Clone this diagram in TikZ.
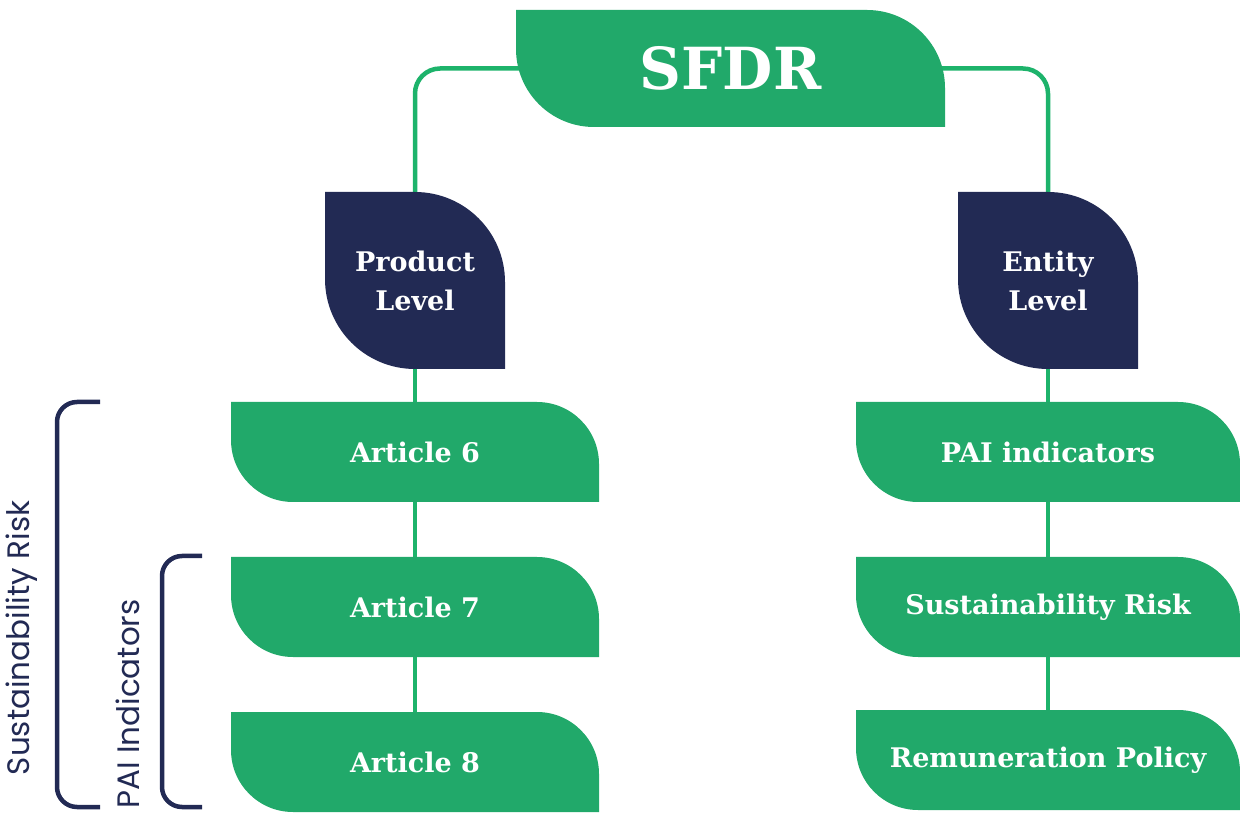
\documentclass[tikz,border=0pt]{standalone}
\usepackage{fontspec}
\setmainfont{DejaVu Serif}
\newfontfamily\labelfont{Poppins}
\usetikzlibrary{backgrounds}
\definecolor{boxgreen}{HTML}{21A96A}
\definecolor{linegreen}{HTML}{1DB36B}
\definecolor{navy}{HTML}{222A54}
\tikzset{
  leaf/.style n args={4}{shape=rectangle, inner sep=0pt, outer sep=0pt,
    minimum width=#1, minimum height=#2, text=white, align=center,
    font=\bfseries\fontsize{27}{39}\selectfont,
    path picture={\fill[#4] (path picture bounding box.north west)
      -- ([xshift=-#3]path picture bounding box.north east)
      arc[start angle=90,end angle=0,radius=#3]
      -- (path picture bounding box.south east)
      -- ([xshift=#3]path picture bounding box.south west)
      arc[start angle=270,end angle=180,radius=#3] -- cycle;}},
  titlebox/.style={leaf={429pt}{117pt}{78pt}{boxgreen}, font=\bfseries\fontsize{58}{58}\selectfont},
  levelbox/.style={leaf={180pt}{177pt}{90pt}{navy}},
  artbox/.style={leaf={368pt}{100pt}{62pt}{boxgreen}},
  entbox/.style={leaf={384pt}{100pt}{62pt}{boxgreen}},
  conn/.style={draw=linegreen, line width=4.5pt},
  brk/.style={draw=navy, line width=4.5pt, rounded corners=20pt},
  brklabel/.style={text=navy, font=\labelfont\fontsize{31}{31}\selectfont, rotate=90, inner sep=0pt},
}
\begin{document}
\begin{tikzpicture}[x=1pt,y=1pt]
\useasboundingbox (0,0) rectangle (1240,812);
\node[titlebox] (sfdr) at (730.5,743.5) {SFDR};
\node[levelbox] (prod) at (415,531.5) {Product\\Level};
\node[levelbox] (ent) at (1048,531.5) {Entity\\Level};
\node[artbox] (a6) at (415,360) {Article 6};
\node[artbox] (a7) at (415,205) {Article 7};
\node[artbox] (a8) at (415,50) {Article 8};
\node[entbox] (pai) at (1048,360) {PAI indicators};
\node[entbox] (sr) at (1048,205) {Sustainability Risk};
\node[entbox] (rp) at (1048,52) {Remuneration Policy};
\begin{pgfonlayer}{background}
\draw[conn, rounded corners=25pt] (sfdr.center) -| (prod.north);
\draw[conn, rounded corners=25pt] (sfdr.center) -| (ent.north);
\end{pgfonlayer}
\draw[conn] (prod.south) -- (a6.north);
\draw[conn] (a6.south) -- (a7.north);
\draw[conn] (a7.south) -- (a8.north);
\draw[conn] (ent.south) -- (pai.north);
\draw[conn] (pai.south) -- (sr.north);
\draw[conn] (sr.south) -- (rp.north);
\draw[brk] (100,410) -- (57,410) -- (57,5) -- (100,5);
\draw[brk] (202,256) -- (162,256) -- (162,5) -- (202,5);
\node[brklabel] (lsr) at (22,174) {Sustainability Risk};
\node[brklabel] (lpai) at (128,108) {PAI Indicators};
\end{tikzpicture}
\end{document}
